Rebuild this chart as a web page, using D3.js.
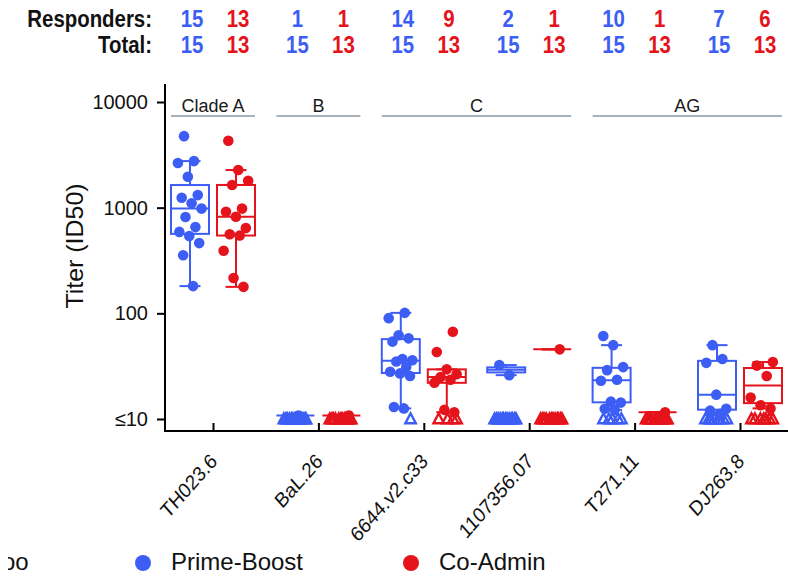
<!DOCTYPE html>
<html>
<head>
<meta charset="utf-8">
<script src="https://cdn.jsdelivr.net/npm/d3@7"></script>
<style>
  body { margin: 0; background: #fff; }
  svg { display: block; font-family: "Liberation Sans", Arial, Helvetica, sans-serif; }
</style>
</head>
<body>
<div id="chart"></div>
<script>
const w = 788
const h = 576

// Viruses on the x axis, and the clade strip each one sits under
const viruses = ["TH023.6", "BaL.26", "6644.v2.c33", "1107356.07", "T271.11", "DJ263.8"]
const cladeOf = ["Clade A", "B", "C", "C", "AG", "AG"]
const cladeNames = ["Clade A", "B", "C", "AG"]

// Groups (dodged boxes) and their colours
const groups = ["Prime-Boost", "Co-Admin"]
const colours = ["#3d5ef5", "#e5131b"]

// Responder titers (ID50), one list per virus
const primeBoostTiters = [
  [181, 355, 462, 540, 590, 655, 815, 980, 1100, 1240, 1315, 1960, 2650, 2760, 4750],
  [10.8],
  [12.6, 13, 25.5, 27, 28, 31, 35, 36, 37, 54, 58, 62, 90, 101],
  [26, 32.4],
  [12.2, 12.5, 14.3, 14.6, 23, 23.5, 29, 31, 50, 61],
  [11.2, 12, 12.5, 17, 34, 37, 50]
]
const coAdminTiters = [
  [178, 216, 391, 545, 560, 641, 820, 915, 980, 1640, 1795, 2270, 4300],
  [10.8],
  [11.6, 12.2, 22, 23.5, 25, 26.5, 29.5, 43, 67],
  [45.6],
  [11.6],
  [12.6, 13.5, 16, 25.5, 32, 34.6]
]
// Animals tested per virus (non-responders are the rest, drawn at <=10)
const primeBoostTotal = [15, 15, 15, 15, 15, 15]
const coAdminTotal = [13, 13, 13, 13, 13, 13]

const yTicks = [10, 100, 1000, 10000]
const yTickLabels = ["≤10", "100", "1000", "10000"]

const titers = [primeBoostTiters, coAdminTiters]
const totals = [primeBoostTotal, coAdminTotal]

const svg = d3.select("#chart")
  .append("svg")
    .attr("width", w)
    .attr("height", h)

// --- Scales ---
const x = d3.scalePoint().domain(viruses).range([213, 740])
const dodge = d3.scalePoint().domain(groups).range([-23, 23])
const y = d3.scaleLog().domain([10, 10000]).range([419, 102])
const boxW = 38
const capW = 21

// deterministic horizontal jitter
const jit = (i, seed) => (((i + 1) * 0.618034 + seed) % 1 - 0.5) * 26

// box stats on the linear values (R type 7 quantiles, 1.5 IQR whiskers)
const boxStats = vals => {
  const s = vals.slice().sort(d3.ascending)
  const q1 = d3.quantileSorted(s, 0.25)
  const med = d3.quantileSorted(s, 0.5)
  const q3 = d3.quantileSorted(s, 0.75)
  const iqr = q3 - q1
  const lo = d3.min(s.filter(v => v >= q1 - 1.5 * iqr))
  const hi = d3.max(s.filter(v => v <= q3 + 1.5 * iqr))
  return { q1, med, q3, lo, hi }
}

// --- Header: responders / total ---
const header = svg.append("g")
const rowY = [27, 53]
const rowNames = ["Responders:", "Total:"]
rowNames.forEach((name, r) => {
  header.append("g")
      .attr("transform", `translate(152, ${rowY[r]}) scale(0.85, 1)`)
    .append("text")
      .attr("text-anchor", "end")
      .attr("font-size", 24)
      .attr("font-weight", "bold")
      .attr("fill", "#111")
      .text(name)
})
viruses.forEach((v, i) => {
  groups.forEach((g, gi) => {
    const vals = [titers[gi][i].length, totals[gi][i]]
    vals.forEach((n, r) => {
      header.append("g")
          .attr("transform", `translate(${x(v) + dodge(g) + 2}, ${rowY[r]}) scale(0.85, 1)`)
        .append("text")
          .attr("text-anchor", "middle")
          .attr("font-size", 24)
          .attr("font-weight", "bold")
          .attr("fill", colours[gi])
          .text(n)
    })
  })
})

// --- Clade strips ---
cladeNames.forEach(c => {
  const members = viruses.filter((v, i) => cladeOf[i] === c)
  const x0 = x(members[0]) + dodge(groups[0]) - boxW / 2
  const x1 = x(members[members.length - 1]) + dodge(groups[1]) + boxW / 2
  svg.append("line")
      .attr("x1", x0).attr("x2", x1)
      .attr("y1", 116).attr("y2", 116)
      .attr("stroke", "#a8b2b8")
      .attr("stroke-width", 2)
  svg.append("text")
      .attr("x", (x0 + x1) / 2)
      .attr("y", 112)
      .attr("text-anchor", "middle")
      .attr("font-size", 18)
      .attr("fill", "#1a1a1a")
      .text(c)
})

// --- Axes ---
const yAxis = svg.append("g")
    .attr("transform", "translate(165, 0)")
    .call(d3.axisLeft(y).tickValues(yTicks).tickFormat((d, i) => yTickLabels[i]).tickSize(8).tickPadding(9))
yAxis.select(".domain").remove()
yAxis.selectAll(".tick line").attr("stroke", "#000").attr("stroke-width", 2)
yAxis.selectAll(".tick text")
    .attr("font-size", 20)
    .attr("font-family", "'Liberation Sans', Arial, sans-serif")
    .attr("fill", "#111")

const xAxis = svg.append("g")
    .attr("transform", "translate(0, 431)")
    .call(d3.axisBottom(x).tickSize(-8).tickFormat(""))
xAxis.select(".domain").remove()
xAxis.selectAll(".tick line").attr("stroke", "#000").attr("stroke-width", 2)

svg.append("line")
    .attr("x1", 165).attr("x2", 165)
    .attr("y1", 84).attr("y2", 432)
    .attr("stroke", "#000").attr("stroke-width", 2)
svg.append("line")
    .attr("x1", 164).attr("x2", w)
    .attr("y1", 431).attr("y2", 431)
    .attr("stroke", "#000").attr("stroke-width", 2)

// x tick labels, rotated (slightly stretched vertically like the source)
viruses.forEach(v => {
  svg.append("text")
      .attr("transform", `translate(${x(v) - 4}, 452) scale(1, 1.13) rotate(-45)`)
      .attr("text-anchor", "end")
      .attr("dy", "0.71em")
      .attr("font-size", 18.5)
      .attr("fill", "#111")
      .text(v)
})

// y title
svg.append("text")
    .attr("transform", "translate(83, 246) scale(1, 1.04) rotate(-90)")
    .attr("text-anchor", "middle")
    .attr("font-size", 24)
    .attr("fill", "#111")
    .text("Titer (ID50)")

// --- Boxes, points, non-responder triangles ---
const plot = svg.append("g")
const tri = d3.symbol().type(d3.symbolTriangle).size(48)

viruses.forEach((v, i) => {
  groups.forEach((g, gi) => {
    const vals = titers[gi][i]
    const col = colours[gi]
    const cx = x(v) + dodge(g)
    const st = boxStats(vals)

    // whiskers
    plot.append("line")
        .attr("x1", cx).attr("x2", cx)
        .attr("y1", y(st.hi)).attr("y2", y(st.q3))
        .attr("stroke", col).attr("stroke-width", 2)
    plot.append("line")
        .attr("x1", cx).attr("x2", cx)
        .attr("y1", y(st.q1)).attr("y2", y(st.lo))
        .attr("stroke", col).attr("stroke-width", 2)
    ;[st.hi, st.lo].forEach(d => {
      plot.append("line")
          .attr("x1", cx - capW / 2).attr("x2", cx + capW / 2)
          .attr("y1", y(d)).attr("y2", y(d))
          .attr("stroke", col).attr("stroke-width", 2)
    })
    // box
    plot.append("rect")
        .attr("x", cx - boxW / 2)
        .attr("y", y(st.q3))
        .attr("width", boxW)
        .attr("height", Math.max(0, y(st.q1) - y(st.q3)))
        .attr("fill", "none")
        .attr("stroke", col).attr("stroke-width", 2)
    plot.append("line")
        .attr("x1", cx - boxW / 2).attr("x2", cx + boxW / 2)
        .attr("y1", y(st.med)).attr("y2", y(st.med))
        .attr("stroke", col).attr("stroke-width", 2)

    // non-responders at <=10
    const nNon = totals[gi][i] - vals.length
    d3.range(nNon).forEach(k => {
      plot.append("path")
          .attr("d", tri)
          .attr("transform", `translate(${cx + jit(k, 0.3) * 0.9}, ${y(10) + 1}) scale(1, 1.1)`)
          .attr("fill", "none")
          .attr("stroke", col)
          .attr("stroke-width", 2.3)
    })

    // responders
    plot.selectAll(null)
      .data(vals)
      .enter()
      .append("circle")
        .attr("cx", (d, k) => cx + jit(k, gi * 0.17))
        .attr("cy", d => y(d))
        .attr("r", 5.3)
        .attr("fill", col)
  })
})

// --- Legend ---
const legendX = [143, 411]
groups.forEach((g, gi) => {
  svg.append("circle")
      .attr("cx", legendX[gi]).attr("cy", 563)
      .attr("r", 8)
      .attr("fill", colours[gi])
  svg.append("text")
      .attr("x", legendX[gi] + 28)
      .attr("y", 570)
      .attr("font-size", 24)
      .attr("fill", "#111")
      .text(g)
})
// clipped legend title at the left edge
svg.append("clipPath").attr("id", "clip-title")
  .append("rect").attr("x", 8).attr("y", 540).attr("width", 60).attr("height", 36)
svg.append("text")
    .attr("x", 2)
    .attr("y", 570)
    .attr("font-size", 24)
    .attr("fill", "#111")
    .attr("clip-path", "url(#clip-title)")
    .text("oo")
</script>
</body>
</html>
